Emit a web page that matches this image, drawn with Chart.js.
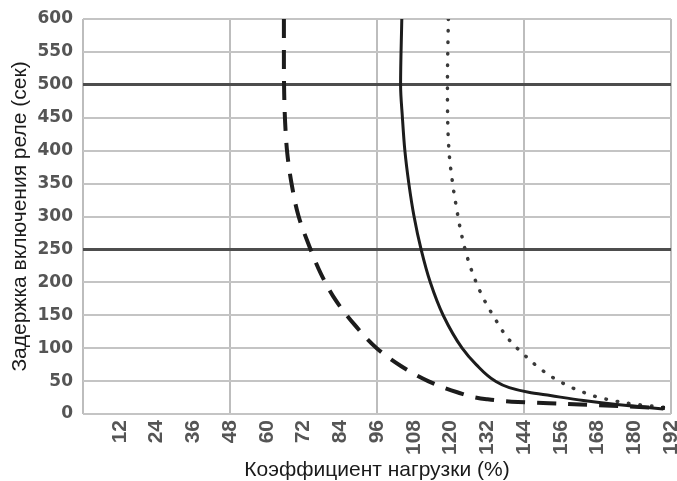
<!DOCTYPE html>
<html lang="ru">
<head>
<meta charset="utf-8">
<title>Задержка включения реле</title>
<script src="https://cdn.jsdelivr.net/npm/chart.js@4/dist/chart.umd.min.js"></script>
<style>
    html, body { margin: 0; padding: 0; background: #ffffff; }
    #wrap { width: 677px; height: 481px; }
</style>
</head>
<body>
<div id="wrap"><canvas id="delayChart" width="677" height="481"></canvas></div>
<script>
// ======================================================
// DATA
// ======================================================
const X_TICK_STEP = 12;
const X_MAX = 192;
const Y_TICK_STEP = 50;
const Y_MAX = 600;
const MAJOR_DELAYS = [250, 500];

// dashed curve
const dashedLoad  = [65.6, 65.6, 65.7, 66, 66.7, 68.1, 70.3, 73.8, 77.7, 82.5, 88.8, 95.9, 103.8, 112.7, 122.2, 131.8, 142, 152.2, 162.3, 172.6, 185, 190];
const dashedDelay = [600, 534, 486, 443, 396, 350, 302, 256, 213, 173, 135, 100, 73, 50, 33, 22.5, 18.3, 16.5, 14.5, 12.5, 10, 9];

// solid curve
const solidLoad  = [104.1, 103.7, 104.3, 105.1, 106.4, 108.1, 110.4, 113.4, 117.6, 123.8, 128.4, 134.6, 139.2, 145.5, 152.6, 163.4, 174.3, 189.5];
const solidDelay = [600, 500, 450, 400, 350, 300, 250, 200, 150, 100, 75, 50, 40, 33, 28, 20.5, 14.4, 7.5];

// dotted curve
const dottedLoad  = [119.3, 119, 119.5, 120.7, 122, 123.3, 125.3, 127.7, 130.5, 134.5, 138.9, 143.8, 149.8, 155.8, 162.8, 170.4, 180, 190];
const dottedDelay = [600, 500, 400, 350, 312, 279, 241, 208, 178, 145, 114, 91, 67, 49, 34, 23, 15, 10];

const xTitle = "Коэффициент нагрузки (%)";
const yTitle = "Задержка включения реле (сек)";

function toPoints(xs, ys) {
    return xs.map((x, i) => ({ x: x, y: ys[i] }));
}

// curves are smoothed along the delay axis (they are monotone in it)
const curveStyle = {
    indexAxis: "y",
    cubicInterpolationMode: "monotone",
    pointRadius: 0,
    fill: false
};

// ======================================================
// CHART
// ======================================================
new Chart(document.getElementById("delayChart"), {
    type: "line",
    data: {
        datasets: [
            Object.assign({
                data: toPoints(dashedLoad, dashedDelay),
                borderColor: "#1c1c1c",
                borderWidth: 4,
                borderDash: [19, 12]
            }, curveStyle),
            Object.assign({
                data: toPoints(solidLoad, solidDelay),
                borderColor: "#1c1c1c",
                borderWidth: 3
            }, curveStyle),
            Object.assign({
                data: toPoints(dottedLoad, dottedDelay),
                borderColor: "#3a3a3a",
                borderWidth: 3.5,
                borderDash: [0.5, 11],
                borderCapStyle: "round"
            }, curveStyle)
        ]
    },
    options: {
        responsive: false,
        animation: false,
        layout: { padding: { top: 19, right: 6, left: 0, bottom: 0 } },
        plugins: {
            legend: { display: false },
            tooltip: { enabled: false }
        },
        scales: {
            x: {
                type: "linear",
                min: 0,
                max: X_MAX,
                afterFit: (scale) => {
                    scale.height = 67;
                    scale.paddingLeft = 0;
                    scale.paddingRight = 0;
                },
                border: { display: false },
                grid: {
                    drawTicks: false,
                    lineWidth: 2,
                    color: (ctx) => (ctx.tick && ctx.tick.value % 48 === 0) ? "#bdbdbd" : "rgba(0,0,0,0)"
                },
                ticks: {
                    stepSize: X_TICK_STEP,
                    autoSkip: false,
                    minRotation: 90,
                    maxRotation: 90,
                    padding: 6,
                    color: "#555555",
                    font: { family: "'Liberation Sans Narrow', 'Liberation Sans', Arial, sans-serif", size: 21, weight: "bold" },
                    callback: (v) => v === 0 ? "" : v
                },
                title: {
                    display: true,
                    text: xTitle,
                    color: "#1a1a1a",
                    padding: { top: 0, bottom: 0 },
                    font: { family: "'Liberation Sans', Arial, sans-serif", size: 21, lineHeight: 1 }
                }
            },
            y: {
                type: "linear",
                min: 0,
                max: Y_MAX,
                afterFit: (scale) => {
                    scale.width = 83;
                    scale.paddingTop = 0;
                    scale.paddingBottom = 0;
                },
                border: { display: false },
                grid: {
                    drawTicks: false,
                    lineWidth: (ctx) => MAJOR_DELAYS.includes(ctx.tick && ctx.tick.value) ? 3 : 2,
                    color: (ctx) => MAJOR_DELAYS.includes(ctx.tick && ctx.tick.value) ? "#4d4d4d" : "#c4c4c4"
                },
                ticks: {
                    stepSize: Y_TICK_STEP,
                    padding: 10,
                    color: "#555555",
                    font: { family: "'DejaVu Sans', sans-serif", size: 17, weight: "bold" }
                },
                title: {
                    display: true,
                    text: yTitle,
                    color: "#1a1a1a",
                    padding: { top: 9, bottom: 0 },
                    font: { family: "'Liberation Sans', Arial, sans-serif", size: 21, lineHeight: 1.1 }
                }
            }
        }
    }
});
</script>
</body>
</html>
